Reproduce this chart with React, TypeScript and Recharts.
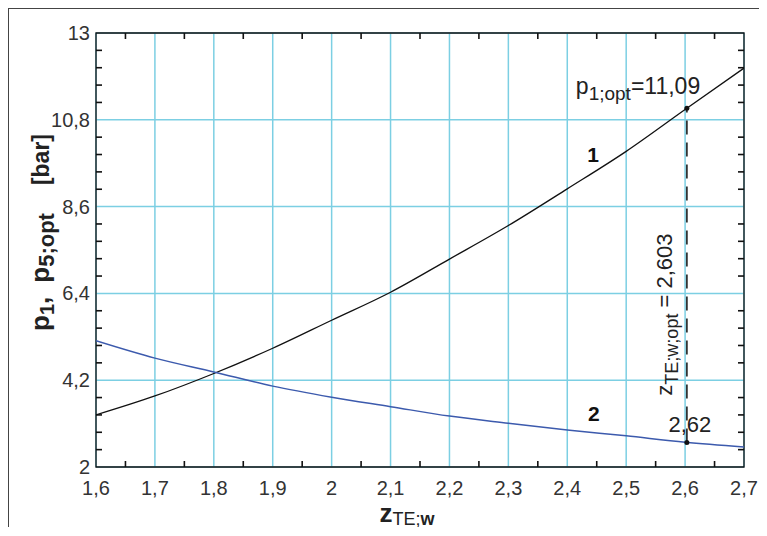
import React from "react"
import {
  LineChart,
  Line,
  XAxis,
  YAxis,
  CartesianGrid,
  ReferenceLine,
  ReferenceDot,
  ReferenceArea,
} from "recharts"

// Wykres p1 i p5;opt w funkcji z_TE;w

const zValues = [1.6, 1.7, 1.8, 1.9, 2.0, 2.1, 2.2, 2.3, 2.4, 2.5, 2.6, 2.7]
const p1Values = [3.32, 3.8, 4.37, 5.01, 5.72, 6.43, 7.27, 8.12, 9.05, 10.0, 11.06, 12.11]
const p5Values = [5.2, 4.76, 4.41, 4.05, 3.77, 3.53, 3.29, 3.11, 2.94, 2.79, 2.63, 2.51]

const majorZ = [1.6, 1.7, 1.8, 1.9, 2, 2.1, 2.2, 2.3, 2.4, 2.5, 2.6, 2.7]
const majorP = [2, 4.2, 6.4, 8.6, 10.8, 13]

const zOpt = 2.603
const p1Opt = 11.09
const p5Opt = 2.62

const data = zValues.map((z, i) => ({ z, p1: p1Values[i], p5: p5Values[i] }))

const FONT = "'Liberation Sans', Arial, sans-serif"
const GAP = 10
const TEXT = "#222"

const Z_MIN = 1.6
const Z_MAX = 2.7
const P_MIN = 2
const P_MAX = 13

// rozmiar wykresu
const W = 750
const H = 526
const M = { top: 24, right: 15, bottom: 18, left: 27 }
const Y_AXIS_W = 60
const X_AXIS_H = 50
const PLOT_W = W - M.left - M.right - Y_AXIS_W
const PLOT_H = H - M.top - M.bottom - X_AXIS_H
// podziałki pomocnicze: 2 na przedział osi x, 5 na przedział osi y
const X_MINOR_STEP = PLOT_W / ((majorZ.length - 1) * 2)
const Y_MINOR_STEP = PLOT_H / ((majorP.length - 1) * 5)
const TICK_LEN = 6

const fmt = (v: number) => String(v).replace(".", ",")

// etykieta + podziałka pomocnicza na prawo od niej (dół i góra)
function BottomTick({ x, y, payload }: any) {
  const axisY = y - GAP
  const topY = axisY - PLOT_H
  const last = Math.abs(payload.value - Z_MAX) < 1e-6
  const mx = x + X_MINOR_STEP
  return (
    <g>
      <text x={x} y={axisY + 28} textAnchor="middle" fontSize={20} fill="#333" fontFamily={FONT}>
        {fmt(payload.value)}
      </text>
      {!last && (
        <g stroke="#111" strokeWidth={1.6}>
          <line x1={mx} x2={mx} y1={axisY} y2={axisY - TICK_LEN} />
          <line x1={mx} x2={mx} y1={topY} y2={topY + TICK_LEN} />
        </g>
      )}
    </g>
  )
}

// etykieta + 4 podziałki pomocnicze poniżej (lewa i prawa krawędź)
function LeftTick({ x, y, payload }: any) {
  const axisX = x + GAP
  const rightX = axisX + PLOT_W
  const first = Math.abs(payload.value - P_MIN) < 1e-6
  return (
    <g>
      <text x={axisX - 6} y={y + 7} textAnchor="end" fontSize={20} fill="#333" fontFamily={FONT}>
        {fmt(payload.value)}
      </text>
      {!first &&
        [1, 2, 3, 4].map((k) => {
          const my = y + k * Y_MINOR_STEP
          return (
            <g key={k} stroke="#111" strokeWidth={1.6}>
              <line x1={axisX} x2={axisX + TICK_LEN} y1={my} y2={my} />
              <line x1={rightX} x2={rightX - TICK_LEN} y1={my} y2={my} />
            </g>
          )
        })}
    </g>
  )
}

function YTitle({ viewBox }: any) {
  const bx = viewBox.x + viewBox.width - 47
  const by = viewBox.y + viewBox.height - 136
  return (
    <text
      x={bx}
      y={by}
      transform={`rotate(-90 ${bx} ${by})`}
      fontFamily={FONT}
      fontWeight="bold"
      fill={TEXT}
    >
      <tspan fontSize={26}>p</tspan>
      <tspan fontSize={20} dy={5}>1</tspan>
      <tspan fontSize={26} dy={-5}>,</tspan>
      <tspan fontSize={26} dx={14}>p</tspan>
      <tspan fontSize={22} dy={5}>5;opt</tspan>
      <tspan fontSize={23} dy={-5} dx={28}>[bar]</tspan>
    </text>
  )
}

function XTitle({ viewBox }: any) {
  const cx = viewBox.x + viewBox.width / 2 - 13
  const by = viewBox.y + 55
  return (
    <text x={cx} y={by} textAnchor="middle" fontFamily={FONT} fill={TEXT}>
      <tspan fontSize={26} fontWeight="bold">z</tspan>
      <tspan fontSize={18} dy={3}>TE;</tspan>
      <tspan fontSize={18} fontWeight="bold">w</tspan>
    </text>
  )
}

function OptTopLabel({ viewBox }: any) {
  const cx = viewBox.x + viewBox.width / 2
  const cy = viewBox.y + viewBox.height / 2
  return (
    <text x={cx - 111} y={cy - 14} fontFamily={FONT} fill={TEXT}>
      <tspan fontSize={23}>p</tspan>
      <tspan fontSize={19} dy={6}>1;opt</tspan>
      <tspan fontSize={23} dy={-6}>=11,09</tspan>
    </text>
  )
}

function OptBottomLabel({ viewBox }: any) {
  const cx = viewBox.x + viewBox.width / 2
  const cy = viewBox.y + viewBox.height / 2
  return (
    <text x={cx + 3} y={cy - 11} textAnchor="middle" fontSize={22} fontFamily={FONT} fill={TEXT}>
      2,62
    </text>
  )
}

function ZOptLabel({ viewBox }: any) {
  const bx = viewBox.x + (viewBox.width || 0) / 2 - 15
  const by = viewBox.y + viewBox.height - 128
  return (
    <text
      x={bx}
      y={by}
      transform={`rotate(-90 ${bx} ${by})`}
      textAnchor="middle"
      fontFamily={FONT}
      fill={TEXT}
    >
      <tspan fontSize={22}>z</tspan>
      <tspan fontSize={18} dy={6}>TE;w;opt</tspan>
      <tspan fontSize={22} dy={-6}> = 2,603</tspan>
    </text>
  )
}

function curveLabel(text: string) {
  return ({ viewBox }: any) => (
    <text
      x={viewBox.x + viewBox.width / 2}
      y={viewBox.y + viewBox.height / 2}
      textAnchor="middle"
      fontSize={21}
      fontWeight="bold"
      fontFamily={FONT}
      fill="#111"
    >
      {text}
    </text>
  )
}

export default function App() {
  return (
    <div
      style={{
        borderLeft: "1px solid #444",
        borderTop: "1px solid #444",
        width: W,
        height: H,
        marginBottom: -8,
      }}
    >
      <LineChart width={W} height={H} data={data} margin={M}>
        <CartesianGrid
          verticalValues={majorZ}
          horizontalValues={majorP}
          stroke="#7ccfe3"
          strokeWidth={1.5}
        />
        <XAxis
          dataKey="z"
          type="number"
          domain={[Z_MIN, Z_MAX]}
          allowDataOverflow
          ticks={majorZ}
          interval={0}
          tickSize={0}
          tickMargin={GAP}
          tick={<BottomTick />}
          axisLine={false}
          height={X_AXIS_H}
          label={{ content: <XTitle /> }}
        />
        <YAxis
          type="number"
          domain={[P_MIN, P_MAX]}
          allowDataOverflow
          ticks={majorP}
          interval={0}
          tickSize={0}
          tickMargin={GAP}
          tick={<LeftTick />}
          axisLine={false}
          width={Y_AXIS_W}
          label={{ content: <YTitle /> }}
        />
        <ReferenceArea
          x1={Z_MIN}
          x2={Z_MAX}
          y1={P_MIN}
          y2={P_MAX}
          fill="none"
          stroke="#111"
          strokeWidth={1.3}
          ifOverflow="visible"
        />
        <Line
          type="monotone"
          dataKey="p1"
          stroke="#111"
          strokeWidth={1.3}
          dot={false}
          isAnimationActive={false}
        />
        <Line
          type="monotone"
          dataKey="p5"
          stroke="#3c5aad"
          strokeWidth={1.5}
          dot={false}
          isAnimationActive={false}
        />
        <ReferenceLine
          segment={[
            { x: zOpt, y: p5Opt },
            { x: zOpt, y: p1Opt },
          ]}
          stroke="#333"
          strokeWidth={1.8}
          strokeDasharray="14 8"
          label={{ content: <ZOptLabel /> }}
        />
        <ReferenceDot x={zOpt} y={p1Opt} r={2.5} fill="#111" stroke="none" label={{ content: <OptTopLabel /> }} />
        <ReferenceDot x={zOpt} y={p5Opt} r={2.5} fill="#111" stroke="none" label={{ content: <OptBottomLabel /> }} />
        <ReferenceDot x={2.444} y={9.73} r={0} stroke="none" label={{ content: curveLabel("1") }} />
        <ReferenceDot x={2.445} y={3.17} r={0} stroke="none" label={{ content: curveLabel("2") }} />
      </LineChart>
    </div>
  )
}
